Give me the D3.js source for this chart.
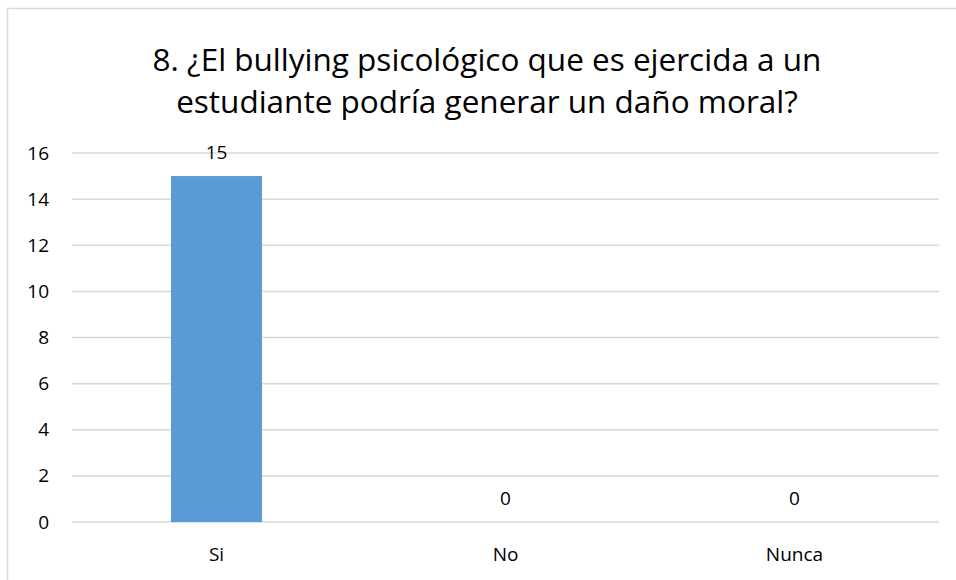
<!DOCTYPE html>
<html>
<head>
<meta charset="utf-8">
<script src="https://cdn.jsdelivr.net/npm/d3@7"></script>
<style>
  body { margin: 0; background: #fff; }
  text { font-family: "Open Sans", Lato, sans-serif; }
</style>
</head>
<body>
<svg id="chart" width="956" height="580"></svg>
<script>
var categories = ["Si", "No", "Nunca"];
var values = [15, 0, 0];
var yTicks = [0, 2, 4, 6, 8, 10, 12, 14, 16];
var titleLines = ["8. ¿El bullying psicológico que es ejercida a un", "estudiante podría generar un daño moral?"];

var svg = d3.select("#chart");

// chart border
svg.append("rect")
    .attr("x", 7.5).attr("y", 8.5)
    .attr("width", 960).attr("height", 600)
    .attr("fill", "#fff")
    .attr("stroke", "#d9d9d9")
    .attr("stroke-width", 1.5);

var margin = {left: 72, right: 939, top: 153, bottom: 522};

var x = d3.scaleBand().domain(categories).range([margin.left, margin.right]).padding(0);
var y = d3.scaleLinear().domain([0, 16]).range([margin.bottom, margin.top]);

// title
svg.append("g").selectAll("text")
    .data(titleLines)
  .enter().append("text")
    .attr("x", 487)
    .attr("y", function(d, i) { return 71 + i * 42; })
    .attr("text-anchor", "middle")
    .attr("font-size", 31.5)
    .attr("fill", "#000")
    .text(function(d) { return d; });

// gridlines
svg.append("g").selectAll("line")
    .data(yTicks)
  .enter().append("line")
    .attr("x1", margin.left).attr("x2", margin.right)
    .attr("y1", function(d) { return y(d); })
    .attr("y2", function(d) { return y(d); })
    .attr("stroke", "#d9d9d9")
    .attr("stroke-width", 1.5);

// y axis labels
var yAxis = d3.axisLeft(y).tickValues(yTicks).tickSize(0).tickPadding(23);
var ya = svg.append("g").attr("transform", "translate(" + margin.left + ",0)").call(yAxis);
ya.select(".domain").remove();
ya.selectAll("text").attr("font-size", 19).attr("fill", "#000")
    .style("font-family", "\"Open Sans\", sans-serif");

// x axis labels
var xAxis = d3.axisBottom(x).tickSize(0).tickPadding(26);
var xa = svg.append("g").attr("transform", "translate(0," + margin.bottom + ")").call(xAxis);
xa.select(".domain").remove();
xa.selectAll("text").attr("font-size", 19).attr("fill", "#000")
    .style("font-family", "\"Open Sans\", sans-serif");

// bars
var barW = x.bandwidth() * 0.315;
svg.append("g").selectAll("rect")
    .data(values)
  .enter().append("rect")
    .attr("x", function(d, i) { return x(categories[i]) + x.bandwidth() / 2 - barW / 2; })
    .attr("y", function(d) { return y(d); })
    .attr("width", barW)
    .attr("height", function(d) { return margin.bottom - y(d); })
    .attr("fill", "#5b9bd5");

// value labels
svg.append("g").selectAll("text")
    .data(values)
  .enter().append("text")
    .attr("x", function(d, i) { return x(categories[i]) + x.bandwidth() / 2; })
    .attr("y", function(d) { return y(d) - 17; })
    .attr("text-anchor", "middle")
    .attr("font-size", 19)
    .attr("fill", "#000")
    .text(function(d) { return d; });
</script>
</body>
</html>
